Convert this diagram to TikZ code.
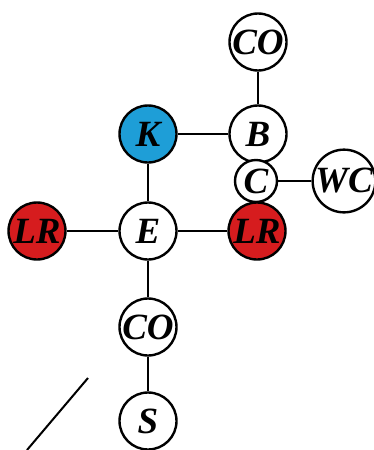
\documentclass[tikz,border=0pt]{standalone}
\usepackage{fontspec}
\setmainfont{Liberation Serif}
\usepackage{xcolor}
\usepackage{tikz}
\usetikzlibrary{positioning}

\definecolor{kblue}{RGB}{30,158,215}
\definecolor{lrred}{RGB}{214,28,30}

\begin{document}
\begin{tikzpicture}[
  x=1pt, y=-1pt,
  every node/.style={font=\fontsize{37}{37}\selectfont\bfseries\itshape},
  atom/.style={circle, draw=black, line width=2.4pt, fill=#1, minimum size=57pt,
               inner sep=0pt},
  atom/.default=white,
  small/.style={atom, minimum size=42pt},
  bond/.style={line width=2.6pt},
]
\useasboundingbox (0,0) rectangle (374,450);

% upper branch
\node[atom] (cotop) at (258, 42) {CO};
\node[atom] (b) at (258, 134) {B};
\node[atom=kblue] (k) at (148, 134) {K};
\node[small] (c) at (256, 181) {C};
\node[atom] (wc) at (344, 181) {WC};

% middle row
\node[atom=lrred] (lrl) at (37, 231) {LR};
\node[atom] (e) at (148, 231) {E};
\node[atom=lrred] (lrr) at (257, 231) {LR};

% lower branch
\node[atom] (cobot) at (148, 327) {CO};
\node[atom] (s) at (148, 421) {S};

% bonds
\draw[bond] (cotop) -- (b);
\draw[bond] (k) -- (b);
\draw[bond] (k) -- (e);
\draw[bond] (c) -- (wc);
\draw[bond] (lrl) -- (e);
\draw[bond] (e) -- (lrr);
\draw[bond] (e) -- (cobot);
\draw[bond] (cobot) -- (s);

% slash
\coordinate (sl1) at (88, 378);
\coordinate (sl2) at (27, 450);
\draw[line width=2pt] (sl1) -- (sl2);
\end{tikzpicture}
\end{document}
